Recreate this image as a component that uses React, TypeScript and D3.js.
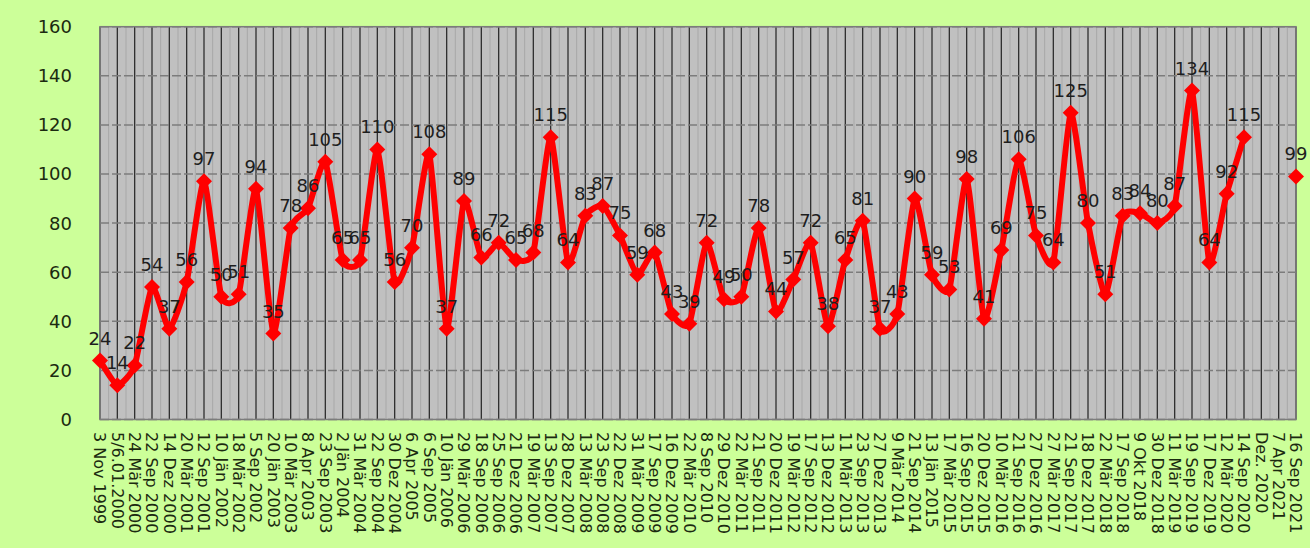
import React from "react";
import * as d3 from "d3";

const categories: string[] = [
  "3 Nov 1999", "5/6.01.2000", "24 Mär 2000", "22 Sep 2000", "14 Dez 2000",
  "20 Mär 2001", "12 Sep 2001", "10 Jän 2002", "18 Mär 2002", "5 Sep 2002",
  "20 Jän 2003", "10 Mär 2003", "8 Apr 2003", "23 Sep 2003", "2 Jän 2004",
  "31 Mär 2004", "22 Sep 2004", "30 Dez 2004", "6 Apr 2005", "6 Sep 2005",
  "10 Jän 2006", "29 Mär 2006", "18 Sep 2006", "25 Sep 2006", "21 Dez 2006",
  "19 Mär 2007", "13 Sep 2007", "28 Dez 2007", "13 Mär 2008", "23 Sep 2008",
  "22 Dez 2008", "31 Mär 2009", "17 Sep 2009", "16 Dez 2009", "22 Mär 2010",
  "8 Sep 2010", "29 Dez 2010", "22 Mär 2011", "21 Sep 2011", "20 Dez 2011",
  "19 Mär 2012", "17 Sep 2012", "13 Dez 2012", "11 Mär 2013", "23 Sep 2013",
  "27 Dez 2013", "9 Mär 2014", "21 Sep 2014", "13 Jän 2015", "17 Mär 2015",
  "16 Sep 2015", "20 Dez 2015", "10 Mär 2016", "21 Sep 2016", "27 Dez 2016",
  "27 Mär 2017", "21 Sep 2017", "18 Dez 2017", "22 Mär 2018", "17 Sep 2018",
  "9 Okt 2018", "30 Dez 2018", "11 Mär 2019", "19 Sep 2019", "17 Dez 2019",
  "12 Mär 2020", "14 Sep 2020", "Dez. 2020", "7 Apr 2021", "16 Sep 2021",
];

const values: (number | null)[] = [
  24, 14, 22, 54, 37, 56, 97, 50, 51, 94,
  35, 78, 86, 105, 65, 65, 110, 56, 70, 108,
  37, 89, 66, 72, 65, 68, 115, 64, 83, 87,
  75, 59, 68, 43, 39, 72, 49, 50, 78, 44,
  57, 72, 38, 65, 81, 37, 43, 90, 59, 53,
  98, 41, 69, 106, 75, 64, 125, 80, 51, 83,
  84, 80, 87, 134, 64, 92, 115, null, null, 99,
];

const yTicks: number[] = [0, 20, 40, 60, 80, 100, 120, 140, 160];

const W = 1310;
const H = 548;
const plotLeft = 100;
const plotRight = 1296;
const plotTop = 26.7;
const plotBottom = 419.5;

export default function App() {
  const x = d3.scalePoint<string>().domain(categories).range([plotLeft, plotRight]);
  const y = d3.scaleLinear().domain([0, 160]).range([plotBottom, plotTop]);
  const step = x.step();

  const pts = categories.map((c, i) => ({ c, v: values[i] }));
  const line = d3
    .line<{ c: string; v: number | null }>()
    .defined((d) => d.v !== null)
    .x((d) => x(d.c) as number)
    .y((d) => y(d.v as number))
    .curve(d3.curveCardinal.tension(0.45));

  const font = "'DejaVu Sans', Verdana, sans-serif";

  return (
    <div style={{ position: "absolute", left: 0, top: 0 }}>
      <svg width={W} height={H} style={{ display: "block" }}>
        <rect x={0} y={0} width={W} height={H} fill="#ccff99" />
        <rect
          x={plotLeft}
          y={plotTop}
          width={plotRight - plotLeft}
          height={plotBottom - plotTop}
          fill="#c0c0c0"
        />
        {/* minor vertical lines */}
        {categories.slice(0, -1).map((c) => (
          <line
            key={"m" + c}
            x1={(x(c) as number) + step / 2}
            x2={(x(c) as number) + step / 2}
            y1={plotTop}
            y2={plotBottom}
            stroke="#a8a8a8"
            strokeWidth={1}
          />
        ))}
        {/* major vertical lines */}
        {categories.map((c) => (
          <line
            key={"v" + c}
            x1={x(c) as number}
            x2={x(c) as number}
            y1={plotTop}
            y2={plotBottom}
            stroke="#2e2e2e"
            strokeWidth={1.3}
          />
        ))}
        {/* horizontal dashed grid */}
        {yTicks.map((t) => (
          <line
            key={"h" + t}
            x1={plotLeft}
            x2={plotRight}
            y1={y(t)}
            y2={y(t)}
            stroke="#7c7c7c"
            strokeWidth={1.5}
            strokeDasharray="9 3"
          />
        ))}
        <rect
          x={plotLeft}
          y={plotTop}
          width={plotRight - plotLeft}
          height={plotBottom - plotTop}
          fill="none"
          stroke="#7c7c7c"
          strokeWidth={1.5}
        />
        {/* y tick labels */}
        {yTicks.map((t) => (
          <text
            key={"yl" + t}
            x={72}
            y={y(t)}
            dy="0.36em"
            textAnchor="end"
            fontFamily={font}
            fontSize={18}
            fill="#1b2a10"
          >
            {t}
          </text>
        ))}
        {/* x tick labels */}
        {categories.map((c) => (
          <text
            key={"xl" + c}
            transform={`translate(${x(c)},432) rotate(90)`}
            dy="0.36em"
            textAnchor="start"
            fontFamily={font}
            fontSize={16}
            fill="#1b2a10"
          >
            {c}
          </text>
        ))}
        {/* line */}
        <path d={line(pts) || ""} fill="none" stroke="#ff0000" strokeWidth={6} strokeLinejoin="round" />
        {/* markers */}
        {pts
          .filter((d) => d.v !== null)
          .map((d) => {
            const cx = x(d.c) as number;
            const cy = y(d.v as number);
            const r = 8;
            return (
              <path
                key={"mk" + d.c}
                d={`M${cx},${cy - r}L${cx + r},${cy}L${cx},${cy + r}L${cx - r},${cy}Z`}
                fill="#ff0000"
              />
            );
          })}
        {/* data labels */}
        {pts
          .filter((d) => d.v !== null)
          .map((d) => (
            <text
              key={"dl" + d.c}
              x={x(d.c) as number}
              y={y(d.v as number) - 16}
              textAnchor="middle"
              fontFamily={font}
              fontSize={18}
              fill="#1e1e1e"
            >
              {d.v}
            </text>
          ))}
      </svg>
    </div>
  );
}
